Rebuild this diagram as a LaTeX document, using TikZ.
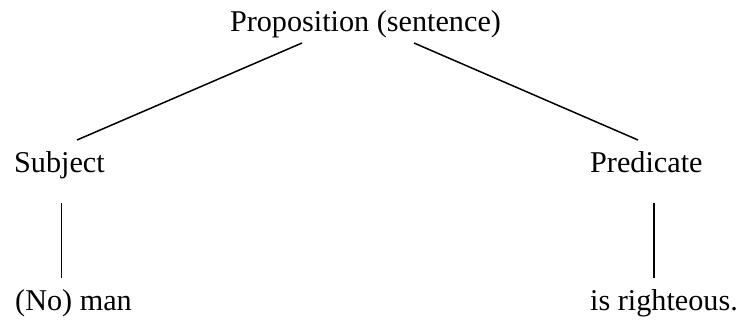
\documentclass[tikz,border=0pt]{standalone}
\usepackage{fontspec}
\setmainfont{Liberation Serif}
\usetikzlibrary{calc}
\begin{document}
\begin{tikzpicture}[x=1pt,y=-1pt,
  word/.style={inner sep=0pt, font=\fontsize{30.2}{36}\selectfont},
  branch/.style={line width=1.5pt}]
\useasboundingbox (0,0) rectangle (740,322);
% labels, placed by their baselines
\node[word, anchor=base] (prop) at (365.5,31) {Proposition (sentence)};
\node[word, anchor=base west] (subj) at (14,172) {Subject};
\node[word, anchor=base west] (pred) at (590,172) {Predicate};
\node[word, anchor=base west] (man) at (15,310) {(No) man};
\node[word, anchor=base west] (right) at (590,310) {is righteous.};
% tree branches
\draw[branch] ($(prop.base)+(-63.5,12)$) -- ($(subj.base west)+(63,-32)$);
\draw[branch] ($(prop.base)+(48.5,12)$) -- ($(pred.base west)+(48,-32)$);
\draw[branch] ($(subj.base west)+(47.5,31)$) -- ($(man.base west)+(46.5,-32)$);
\draw[branch] ($(pred.base west)+(64,31)$) -- ($(right.base west)+(64,-32)$);
\end{tikzpicture}
\end{document}
